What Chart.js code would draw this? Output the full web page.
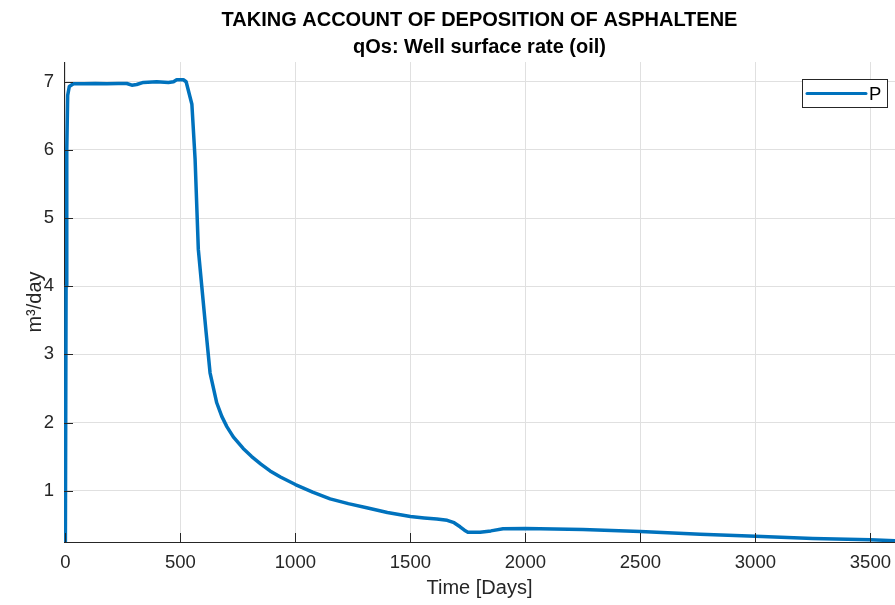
<!DOCTYPE html>
<html>
<head>
<meta charset="utf-8">
<title>qOs: Well surface rate (oil)</title>
<script src="https://cdn.jsdelivr.net/npm/chart.js@4.4.1/dist/chart.umd.min.js"></script>
<style>
  html, body { margin: 0; padding: 0; background: #fff; }
  #wrap { width: 895px; height: 605px; }
</style>
</head>
<body>
<div id="wrap"><canvas id="chart" width="895" height="605"></canvas></div>
<script>
// values
const titleLines = ['TAKING ACCOUNT OF DEPOSITION OF ASPHALTENE', 'qOs: Well surface rate (oil)'];
const seriesLabel = 'P';
const days = [0, 3, 6, 10, 17, 35, 80, 130, 180, 230, 267, 289, 310, 339, 397, 448, 470, 484, 513, 525,
  550, 564, 578, 593, 612, 629, 658, 680, 702, 730, 773, 810, 850, 890, 935, 1000, 1075, 1151, 1230, 1310,
  1400, 1500, 1560, 1615, 1660, 1690, 1716, 1735, 1750, 1803, 1850, 1903, 2000, 2250, 2500, 2760, 3000,
  3250, 3500, 3607];
const rates = [0.25, 4.0, 6.0, 6.8, 6.93, 6.97, 6.97, 6.975, 6.97, 6.975, 6.975, 6.95, 6.96, 6.99, 7.0, 6.99, 7.0, 7.03, 7.03, 7.0,
  6.67, 5.86, 4.54, 4.0, 3.32, 2.73, 2.29, 2.09, 1.94, 1.79, 1.62, 1.50, 1.39, 1.29, 1.20, 1.09, 0.98, 0.88, 0.81, 0.75,
  0.68, 0.62, 0.60, 0.585, 0.565, 0.53, 0.47, 0.42, 0.39, 0.39, 0.41, 0.44, 0.445, 0.43, 0.40, 0.36, 0.33,
  0.30, 0.28, 0.266];
const xTicks = [0, 500, 1000, 1500, 2000, 2500, 3000, 3500];
const yTicks = [1, 2, 3, 4, 5, 6, 7];
const xRange = [-6, 3607];
const yRange = [0.247, 7.29];

const axisColor = '#262626';
const gridColor = '#e0e0e0';
const lineColor = '#0072bd';
const fontFamily = '"Liberation Sans", Arial, Helvetica, sans-serif';

// MATLAB style: inward tick marks, title over the plot area, boxed legend
const matlabDecor = {
  id: 'matlabDecor',
  afterDatasetsDraw(chart) {
    const { ctx, chartArea, scales } = chart;
    ctx.save();
    ctx.strokeStyle = axisColor;
    ctx.lineWidth = 1;
    ctx.beginPath();
    xTicks.forEach((v) => {
      const px = Math.round(scales.x.getPixelForValue(v)) + 0.5;
      ctx.moveTo(px, chartArea.bottom);
      ctx.lineTo(px, chartArea.bottom - 9);
    });
    yTicks.forEach((v) => {
      const py = Math.round(scales.y.getPixelForValue(v)) + 0.5;
      ctx.moveTo(chartArea.left, py);
      ctx.lineTo(chartArea.left + 9, py);
    });
    ctx.stroke();
    ctx.restore();
  },
  afterDraw(chart) {
    const { ctx, chartArea } = chart;
    ctx.save();
    // title
    ctx.fillStyle = '#000';
    ctx.font = 'bold 20px ' + fontFamily;
    ctx.textAlign = 'center';
    ctx.textBaseline = 'alphabetic';
    const cx = (chartArea.left + chartArea.right) / 2;
    titleLines.forEach((line, i) => ctx.fillText(line, cx, 26 + i * 27));

    // legend
    const ds = chart.data.datasets[0];
    const bx = 802.5, by = 79.5, bw = 85, bh = 28;
    ctx.fillStyle = '#fff';
    ctx.fillRect(bx, by, bw, bh);
    ctx.strokeStyle = axisColor;
    ctx.lineWidth = 1;
    ctx.strokeRect(bx, by, bw, bh);
    ctx.strokeStyle = ds.borderColor;
    ctx.lineWidth = 3;
    ctx.lineCap = 'round';
    ctx.beginPath();
    ctx.moveTo(807, by + bh / 2);
    ctx.lineTo(866, by + bh / 2);
    ctx.stroke();
    ctx.fillStyle = '#000';
    ctx.font = '18.5px ' + fontFamily;
    ctx.textAlign = 'left';
    ctx.textBaseline = 'middle';
    ctx.fillText(ds.label, 869, by + bh / 2 + 1);
    ctx.restore();
  }
};

new Chart(document.getElementById('chart'), {
  type: 'line',
  data: {
    datasets: [
      {
        label: seriesLabel,
        data: days.map((d, i) => ({ x: d, y: rates[i] })),
        borderColor: lineColor,
        borderWidth: 3.5,
        pointRadius: 0,
        fill: false,
        tension: 0,
        borderJoinStyle: 'round',
        borderCapStyle: 'round'
      }
    ]
  },
  options: {
    responsive: false,
    animation: false,
    events: [],
    layout: { padding: { top: 62, left: 0, right: 0, bottom: 0 } },
    plugins: {
      legend: { display: false },
      title: { display: false },
      tooltip: { enabled: false }
    },
    scales: {
      x: {
        type: 'linear',
        min: xRange[0],
        max: xRange[1],
        afterBuildTicks: (scale) => { scale.ticks = xTicks.map((v) => ({ value: v })); },
        afterFit: (scale) => {
          scale.height = 63;
          scale.paddingLeft = 0;
          scale.paddingRight = 0;
        },
        grid: { color: gridColor, lineWidth: 1, drawTicks: false },
        border: { display: true, color: axisColor, width: 1 },
        ticks: {
          color: axisColor,
          padding: 10,
          maxRotation: 0,
          autoSkip: false,
          callback: (v) => String(v),
          font: { family: fontFamily, size: 18.5 }
        },
        title: {
          display: true,
          text: 'Time [Days]',
          color: axisColor,
          padding: { top: 0, bottom: 5 },
          font: { family: fontFamily, size: 20 }
        }
      },
      y: {
        type: 'linear',
        min: yRange[0],
        max: yRange[1],
        afterBuildTicks: (scale) => { scale.ticks = yTicks.map((v) => ({ value: v })); },
        afterFit: (scale) => { scale.width = 64; },
        grid: { color: gridColor, lineWidth: 1, drawTicks: false },
        border: { display: true, color: axisColor, width: 1 },
        ticks: {
          color: axisColor,
          padding: 10,
          autoSkip: false,
          callback: (v) => String(v),
          font: { family: fontFamily, size: 18.5 }
        },
        title: {
          display: true,
          text: 'm³/day',
          color: axisColor,
          padding: { top: 23, bottom: 0 },
          font: { family: fontFamily, size: 20 }
        }
      }
    }
  },
  plugins: [matlabDecor]
});
</script>
</body>
</html>
